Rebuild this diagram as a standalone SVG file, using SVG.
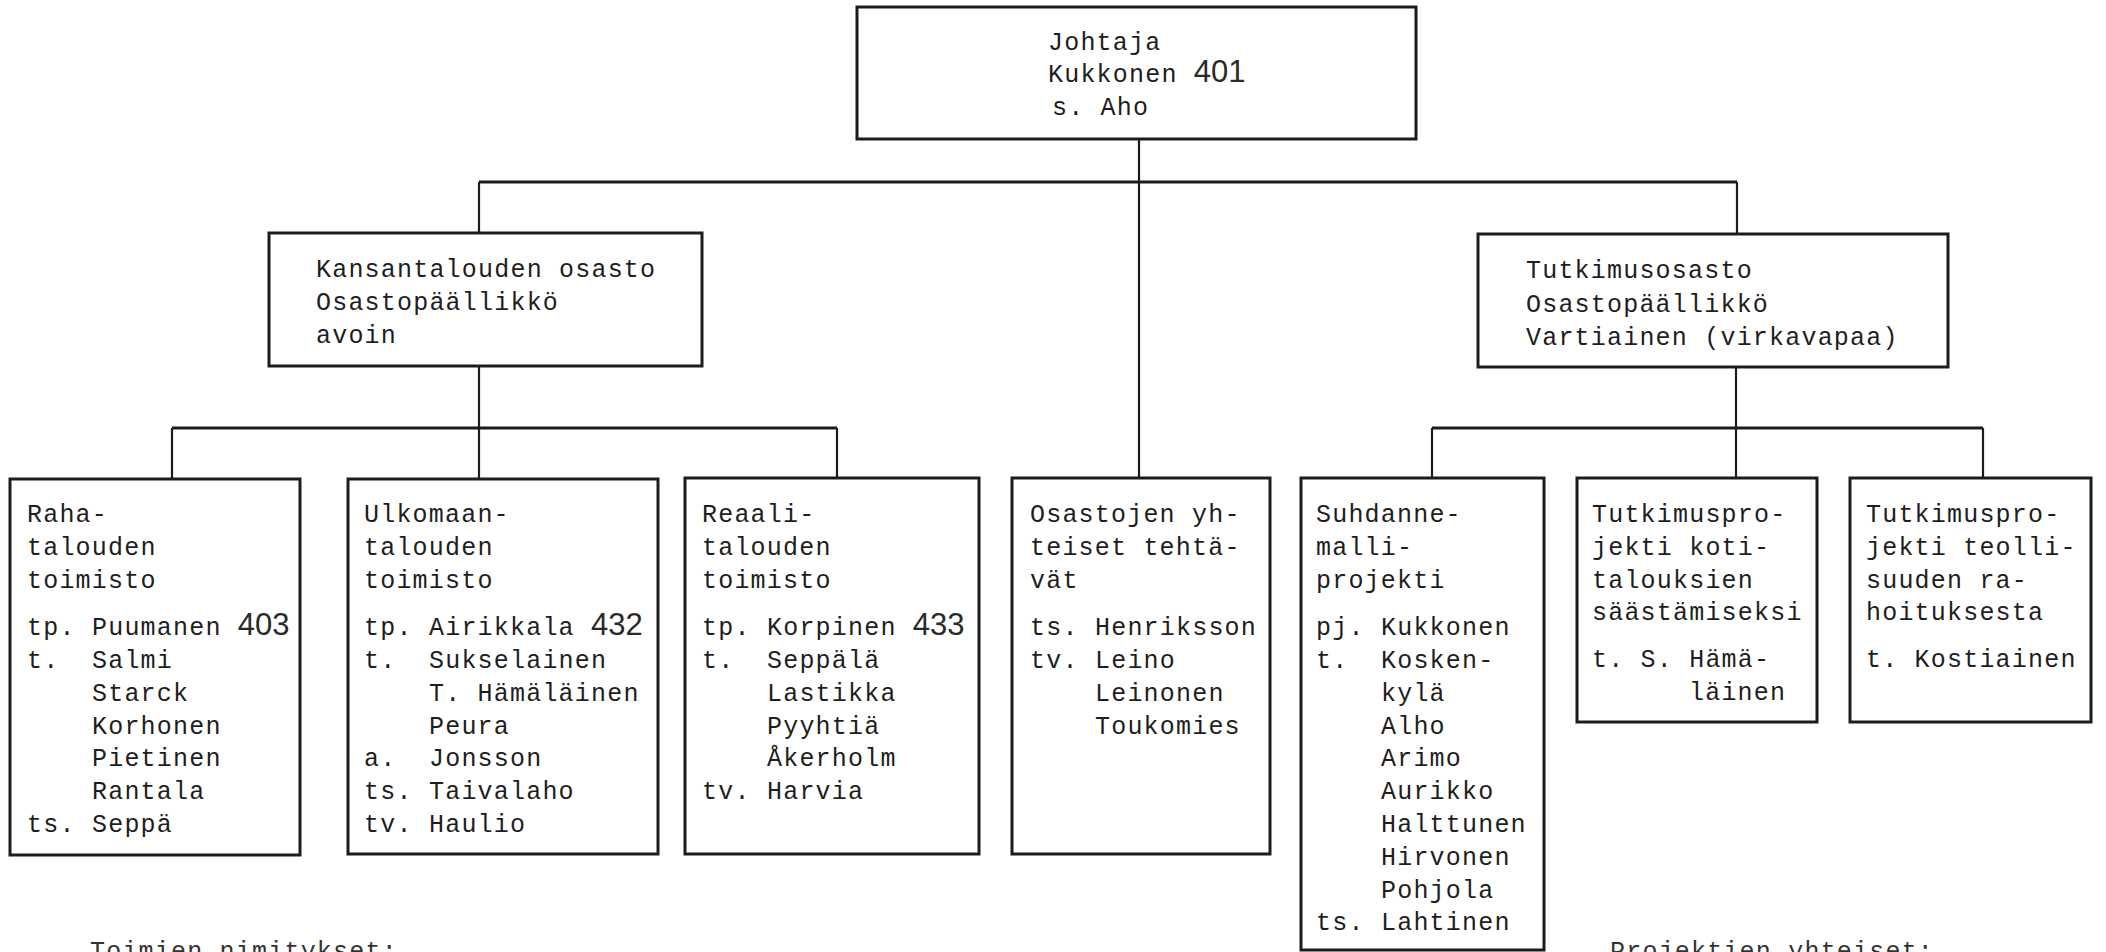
<svg xmlns="http://www.w3.org/2000/svg" width="2106" height="952" viewBox="0 0 2106 952">
<style>
  .box { fill: none; stroke: #1c1c1c; stroke-width: 3; }
  .con { fill: none; stroke: #1c1c1c; stroke-width: 2.2; }
  .bar { fill: none; stroke: #1c1c1c; stroke-width: 3; }
  text { font-family: "Liberation Mono", "DejaVu Sans Mono", monospace; font-size: 25px; letter-spacing: 1.2px; fill: #1e1e1e; }
  .num { font-family: "Liberation Sans", "DejaVu Sans", sans-serif; font-size: 31px; letter-spacing: 0; fill: #2a2a2a; }
  .cut { fill: #333; }
</style>
<rect x="0" y="0" width="2106" height="952" fill="#ffffff"/>

<g id="connectors">
  <line class="con" x1="1139" y1="139" x2="1139" y2="478"/>
  <line class="bar" x1="479" y1="182" x2="1737" y2="182"/>
  <line class="con" x1="479" y1="182" x2="479" y2="233"/>
  <line class="con" x1="1737" y1="182" x2="1737" y2="234"/>
  <line class="con" x1="479" y1="366" x2="479" y2="479"/>
  <line class="bar" x1="172" y1="428" x2="837" y2="428"/>
  <line class="con" x1="172" y1="428" x2="172" y2="479"/>
  <line class="con" x1="837" y1="428" x2="837" y2="478"/>
  <line class="con" x1="1736" y1="367" x2="1736" y2="478"/>
  <line class="bar" x1="1432" y1="428" x2="1983" y2="428"/>
  <line class="con" x1="1432" y1="428" x2="1432" y2="478"/>
  <line class="con" x1="1983" y1="428" x2="1983" y2="478"/>
</g>

<g id="johtaja">
  <rect class="box" x="857" y="7" width="559" height="132"/>
  <text x="1048" y="50">Johtaja</text>
  <text x="1048" y="82">Kukkonen <tspan class="num">401</tspan></text>
  <text x="1052" y="115">s. Aho</text>
</g>

<g id="kansantalouden-osasto">
  <rect class="box" x="269" y="233" width="433" height="133"/>
  <text x="316" y="277">Kansantalouden osasto</text>
  <text x="316" y="310">Osastopäällikkö</text>
  <text x="316" y="343">avoin</text>
</g>

<g id="tutkimusosasto">
  <rect class="box" x="1478" y="234" width="470" height="133"/>
  <text x="1526" y="278">Tutkimusosasto</text>
  <text x="1526" y="312">Osastopäällikkö</text>
  <text x="1526" y="345">Vartiainen (virkavapaa)</text>
</g>

<g id="rahatalouden-toimisto">
  <rect class="box" x="10" y="479" width="290" height="376"/>
  <text x="27" y="522">Raha-</text>
  <text x="27" y="555">talouden</text>
  <text x="27" y="588">toimisto</text>
  <text x="27" y="635">tp.<tspan x="92">Puumanen </tspan><tspan class="num">403</tspan></text>
  <text x="27" y="668">t.<tspan x="92">Salmi</tspan></text>
  <text x="92" y="701">Starck</text>
  <text x="92" y="734">Korhonen</text>
  <text x="92" y="766">Pietinen</text>
  <text x="92" y="799">Rantala</text>
  <text x="27" y="832">ts.<tspan x="92">Seppä</tspan></text>
</g>

<g id="ulkomaantalouden-toimisto">
  <rect class="box" x="348" y="479" width="310" height="375"/>
  <text x="364" y="522">Ulkomaan-</text>
  <text x="364" y="555">talouden</text>
  <text x="364" y="588">toimisto</text>
  <text x="364" y="635">tp.<tspan x="429">Airikkala </tspan><tspan class="num">432</tspan></text>
  <text x="364" y="668">t.<tspan x="429">Sukselainen</tspan></text>
  <text x="429" y="701">T. Hämäläinen</text>
  <text x="429" y="734">Peura</text>
  <text x="364" y="766">a.<tspan x="429">Jonsson</tspan></text>
  <text x="364" y="799">ts.<tspan x="429">Taivalaho</tspan></text>
  <text x="364" y="832">tv.<tspan x="429">Haulio</tspan></text>
</g>

<g id="reaalitalouden-toimisto">
  <rect class="box" x="685" y="478" width="294" height="376"/>
  <text x="702" y="522">Reaali-</text>
  <text x="702" y="555">talouden</text>
  <text x="702" y="588">toimisto</text>
  <text x="702" y="635">tp.<tspan x="767">Korpinen </tspan><tspan class="num">433</tspan></text>
  <text x="702" y="668">t.<tspan x="767">Seppälä</tspan></text>
  <text x="767" y="701">Lastikka</text>
  <text x="767" y="734">Pyyhtiä</text>
  <text x="767" y="766">Åkerholm</text>
  <text x="702" y="799">tv.<tspan x="767">Harvia</tspan></text>
</g>

<g id="osastojen-yhteiset">
  <rect class="box" x="1012" y="478" width="258" height="376"/>
  <text x="1030" y="522">Osastojen yh-</text>
  <text x="1030" y="555">teiset tehtä-</text>
  <text x="1030" y="588">vät</text>
  <text x="1030" y="635">ts.<tspan x="1095">Henriksson</tspan></text>
  <text x="1030" y="668">tv.<tspan x="1095">Leino</tspan></text>
  <text x="1095" y="701">Leinonen</text>
  <text x="1095" y="734">Toukomies</text>
</g>

<g id="suhdannemalliprojekti">
  <rect class="box" x="1301" y="478" width="243" height="472"/>
  <text x="1316" y="522">Suhdanne-</text>
  <text x="1316" y="555">malli-</text>
  <text x="1316" y="588">projekti</text>
  <text x="1316" y="635">pj.<tspan x="1381">Kukkonen</tspan></text>
  <text x="1316" y="668">t.<tspan x="1381">Kosken-</tspan></text>
  <text x="1381" y="701">kylä</text>
  <text x="1381" y="734">Alho</text>
  <text x="1381" y="766">Arimo</text>
  <text x="1381" y="799">Aurikko</text>
  <text x="1381" y="832">Halttunen</text>
  <text x="1381" y="865">Hirvonen</text>
  <text x="1381" y="898">Pohjola</text>
  <text x="1316" y="930">ts.<tspan x="1381">Lahtinen</tspan></text>
</g>

<g id="kotitalouksien-projekti">
  <rect class="box" x="1577" y="478" width="240" height="244"/>
  <text x="1592" y="522">Tutkimuspro-</text>
  <text x="1592" y="555">jekti koti-</text>
  <text x="1592" y="588">talouksien</text>
  <text x="1592" y="620">säästämiseksi</text>
  <text x="1592" y="667">t. S. Hämä-</text>
  <text x="1689" y="700">läinen</text>
</g>

<g id="teollisuuden-projekti">
  <rect class="box" x="1850" y="478" width="241" height="244"/>
  <text x="1866" y="522">Tutkimuspro-</text>
  <text x="1866" y="555">jekti teolli-</text>
  <text x="1866" y="588">suuden ra-</text>
  <text x="1866" y="620">hoituksesta</text>
  <text x="1866" y="667">t. Kostiainen</text>
</g>

<g id="footer">
  <text class="cut" x="90" y="959">Toimien nimitykset:</text>
  <text class="cut" x="1610" y="959">Projektien yhteiset:</text>
</g>
</svg>
